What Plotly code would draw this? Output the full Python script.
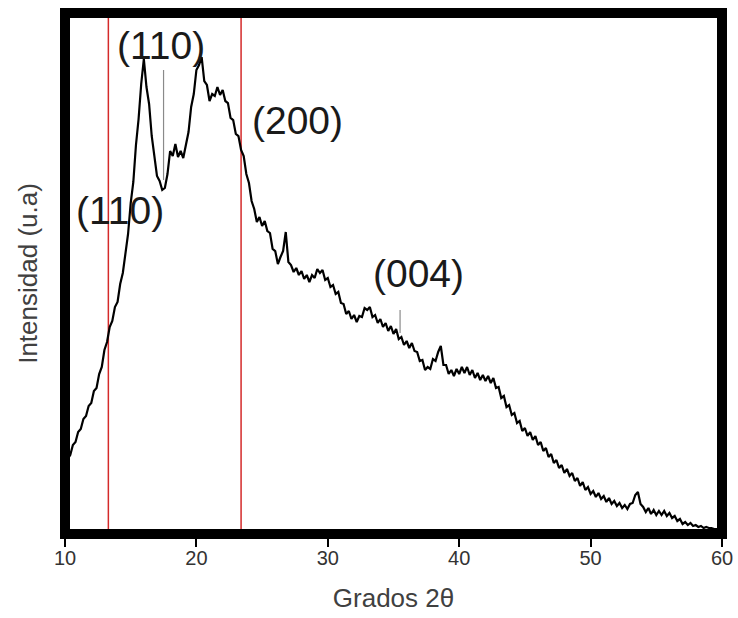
import numpy as np
import plotly.graph_objects as go

# 2-theta grid (degrees) and measured intensity (arbitrary units)
two_theta = np.round(np.arange(10.0, 60.0001, 0.2), 1)
intensity = [
    68, 75, 79, 89, 92, 102, 105, 115, 118, 128,
    131, 143, 146, 160, 167, 184, 192, 207, 213, 227,
    232, 250, 261, 279, 300, 331, 352, 389, 415, 450,
    475, 447, 430, 398, 380, 358, 353, 344, 346, 360,
    383, 378, 390, 377, 383, 376, 389, 402, 427, 440,
    464, 469, 477, 453, 449, 433, 440, 438, 447, 439,
    444, 433, 431, 416, 414, 400, 398, 384, 378, 360,
    351, 333, 325, 312, 317, 308, 313, 303, 301, 285,
    283, 270, 277, 283, 302, 272, 269, 262, 266, 259,
    263, 255, 259, 252, 259, 256, 265, 261, 264, 254,
    256, 247, 249, 240, 242, 231, 230, 220, 223, 215,
    219, 212, 218, 217, 226, 224, 227, 217, 219, 211,
    215, 207, 211, 203, 208, 200, 205, 195, 197, 189,
    193, 186, 191, 183, 182, 173, 174, 164, 167, 165,
    175, 173, 182, 188, 169, 169, 160, 164, 158, 165,
    160, 167, 161, 167, 159, 164, 156, 161, 154, 159,
    153, 158, 151, 156, 146, 147, 136, 138, 127, 129,
    119, 121, 111, 113, 103, 106, 98, 102, 94, 98,
    89, 92, 83, 86, 77, 80, 71, 74, 66, 69,
    61, 65, 58, 61, 53, 56, 48, 52, 44, 47,
    40, 43, 37, 41, 35, 38, 32, 36, 30, 33,
    28, 31, 26, 29, 25, 30, 31, 39, 42, 30,
    27, 22, 26, 20, 24, 19, 23, 19, 23, 18,
    21, 16, 18, 13, 15, 10, 12, 9, 11, 8,
    9, 7, 8, 6, 7, 6, 6, 5, 5, 4,
    4,
]
assert len(intensity) == len(two_theta)

# reference (red) lines
ref_lines = [13.3, 23.4]
# thin gray index sticks: position, low, high
stick_pos = [17.5, 35.5]
stick_low = [354, 201]
stick_high = [464, 224]
# peak labels
label_text = ["(110)", "(110)", "(200)", "(004)"]
label_x = [17.3, 14.2, 27.7, 36.9]
label_y = [489, 324, 414, 261]

x_ticks = [10, 20, 30, 40, 50, 60]

FONT = "Arial, Liberation Sans, sans-serif"

fig = go.Figure()
fig.add_trace(go.Scatter(
    x=two_theta, y=intensity, mode="lines",
    line=dict(color="black", width=2.2), showlegend=False, hoverinfo="skip",
))

shapes = []
for xv in ref_lines:
    shapes.append(dict(type="line", xref="x", yref="paper", x0=xv, x1=xv, y0=0, y1=1,
                       line=dict(color="#d42a2a", width=1.5), layer="below"))
for xp, lo, hi in zip(stick_pos, stick_low, stick_high):
    shapes.append(dict(type="line", xref="x", yref="y", x0=xp, x1=xp, y0=lo, y1=hi,
                       line=dict(color="#8a8a8a", width=1.2), layer="below"))
shapes.append(dict(type="rect", xref="paper", yref="paper", x0=0, x1=1, y0=0, y1=1,
                   line=dict(color="black", width=10), layer="above"))

annotations = []
for t, xv, yv in zip(label_text, label_x, label_y):
    annotations.append(dict(text=t, x=xv, y=yv, xref="x", yref="y", showarrow=False,
                            font=dict(family=FONT, size=39, color="#1a1a1a")))

fig.update_layout(
    width=738, height=618,
    margin=dict(l=65, r=16, t=13, b=84, autoexpand=False),
    paper_bgcolor="white", plot_bgcolor="white",
    shapes=shapes, annotations=annotations,
    xaxis=dict(range=[10, 60], tickvals=x_ticks, ticks="outside", ticklen=12, tickwidth=1.5,
               tickcolor="black", showgrid=False, zeroline=False, showline=False,
               ticklabelstandoff=-6,
               tickfont=dict(family=FONT, size=20, color="#333333"),
               title=dict(text="Grados 2θ", font=dict(family=FONT, size=26, color="#404040"),
                          standoff=20)),
    yaxis=dict(range=[0, 521], showticklabels=False, ticks="", showgrid=False,
               zeroline=False, showline=False,
               title=dict(text="Intensidad (u.a)", font=dict(family=FONT, size=26, color="#404040"),
                          standoff=18)),
)

fig.write_html("out.html")
